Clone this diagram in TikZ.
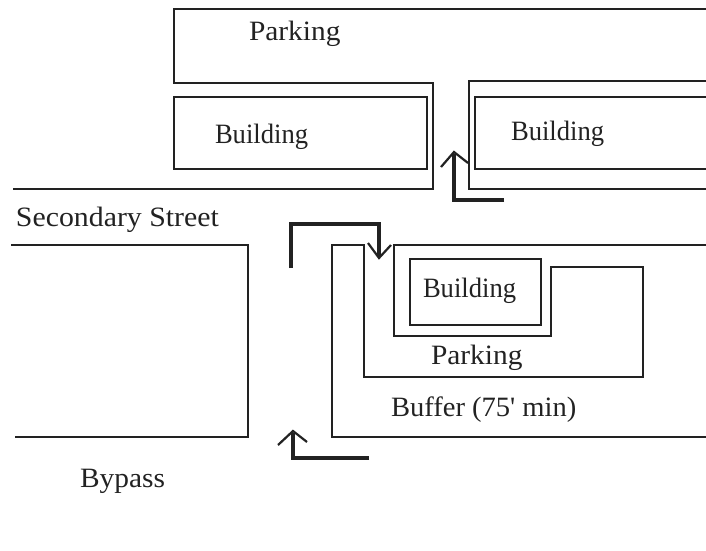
\documentclass[tikz,border=0pt]{standalone}
\usepackage{fontspec}
\usepackage{graphicx}
\setmainfont{Liberation Serif}
\newcommand{\lbl}[2]{\scalebox{#1}[1]{\fontsize{28}{30}\selectfont #2}}
\definecolor{ink}{HTML}{222222}
\tikzset{
  wall/.style={draw=ink,line width=1.5pt,line cap=square,line join=miter},
  route/.style={draw=ink,line width=3.6pt,line join=miter},
  barb/.style={draw=ink,line width=2.2pt,line join=miter},
  lab/.style={text=ink,anchor=base west,inner sep=0pt,outer sep=0pt}
}
\begin{document}
\begin{tikzpicture}[x=1pt,y=-1pt]
\useasboundingbox[fill=white] (0,0) rectangle (706,550);
% upper block
\draw[wall] (706,9) -- (174,9) -- (174,83) -- (433,83) -- (433,189) -- (13,189);
\draw[wall] (706,81) -- (469,81) -- (469,189) -- (706,189);
\draw[wall] (174,97) rectangle (427,169);
\draw[wall] (706,97) -- (475,97) -- (475,169) -- (706,169);
% left block
\draw[wall] (11,245) -- (248,245) -- (248,437) -- (15,437);
% lower right block
\draw[wall] (706,245) -- (394,245) -- (394,336) -- (551,336) -- (551,267) -- (643,267) -- (643,377) -- (364,377) -- (364,245) -- (332,245) -- (332,437) -- (706,437);
\draw[wall] (410,259) rectangle (541,325);
% routes
\draw[route] (504,200) -- (454,200) -- (454,154);
\draw[barb] (441,167) -- (454,152) -- (468,163);
\draw[route] (291,268) -- (291,224) -- (379,224) -- (379,256);
\draw[barb] (368,243) -- (379,258) -- (391,245);
\draw[route] (369,458) -- (293,458) -- (293,433);
\draw[barb] (278,445) -- (293,431) -- (307,442);
% labels
\node[lab] (parkingtop) at (249,40) {\lbl{1.05}{Parking}};
\node[lab] (buildingleft) at (215,143) {\lbl{.95}{Building}};
\node[lab] (buildingright) at (511,140) {\lbl{.95}{Building}};
\node[lab] (secondary) at (16,226) {\lbl{1.065}{Secondary Street}};
\node[lab] (buildinginner) at (423,297) {\lbl{.95}{Building}};
\node[lab] (parkinginner) at (431,364) {\lbl{1.05}{Parking}};
\node[lab] (buffer) at (391,416) {\lbl{1.02}{Buffer (75\textquotesingle{} min)}};
\node[lab] (bypass) at (80,487) {\lbl{1.05}{Bypass}};
\end{tikzpicture}
\end{document}
